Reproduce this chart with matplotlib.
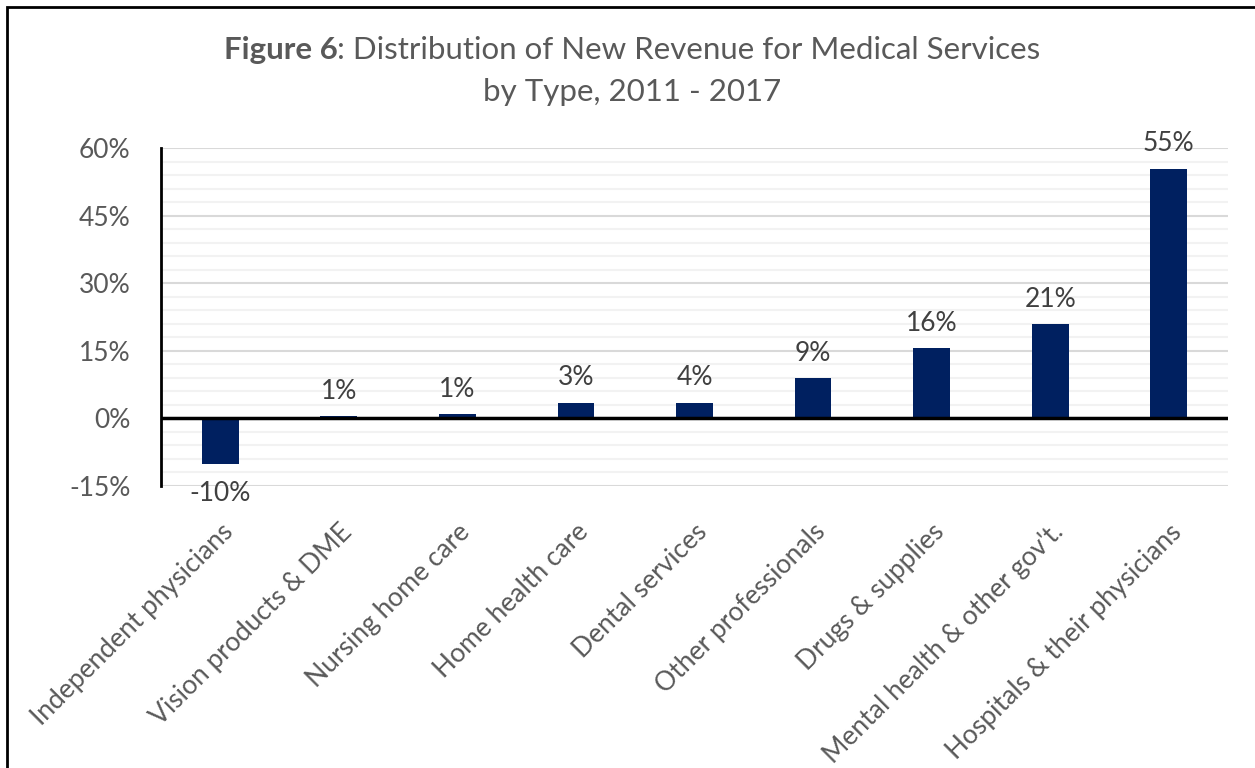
import matplotlib.pyplot as plt
from matplotlib.patches import Rectangle
from matplotlib.ticker import MultipleLocator, FuncFormatter

plt.rcParams['font.family'] = ['Lato', 'DejaVu Sans']

categorias = ["Independent physicians", "Vision products & DME", "Nursing home care",
              "Home health care", "Dental services", "Other professionals",
              "Drugs & supplies", "Mental health & other gov't.", "Hospitals & their physicians"]
valores = [-10.2, 0.5, 0.9, 3.5, 3.5, 8.9, 15.6, 20.9, 55.4]
etiquetas = ["-10%", "1%", "1%", "3%", "4%", "9%", "16%", "21%", "55%"]

azul = '#002060'
gris_texto = '#595959'

fig = plt.figure(figsize=(12.55, 7.68), dpi=100)
ax = fig.add_axes([0.1283, 0.3672, 0.8502, 0.4401])

x = list(range(len(categorias)))
ax.bar(x, valores, width=0.31, color=azul, zorder=3)

ax.set_xlim(-0.5, len(categorias) - 0.5)
ax.set_ylim(-15, 60)
ax.yaxis.set_major_locator(MultipleLocator(15))
ax.yaxis.set_minor_locator(MultipleLocator(3))
ax.yaxis.set_major_formatter(FuncFormatter(lambda v, p: f"{v:.0f}%"))
ax.grid(axis='y', which='major', color='#d9d9d9', linewidth=1.5, zorder=0)
ax.grid(axis='y', which='minor', color='#f2f2f2', linewidth=1.5, zorder=0)
ax.axhline(0, color='black', linewidth=2.5, zorder=4)

for lado in ['top', 'right', 'bottom']:
    ax.spines[lado].set_visible(False)
ax.spines['left'].set_linewidth(2)
ax.spines['left'].set_color('black')

ax.tick_params(axis='both', which='both', length=0)
ax.tick_params(axis='y', labelsize=19, labelcolor=gris_texto, pad=22)
ax.set_xticks(x)
ax.set_xticklabels(categorias, rotation=45, ha='right', rotation_mode='anchor',
                   fontsize=19, color=gris_texto)
ax.tick_params(axis='x', pad=24)

for xi, v, t in zip(x, valores, etiquetas):
    if v < 0:
        ax.annotate(t, (xi, v), xytext=(0, -12), textcoords='offset points',
                    ha='center', va='top', fontsize=19, color='#404040')
    else:
        ax.annotate(t, (xi, v), xytext=(0, 9), textcoords='offset points',
                    ha='center', va='bottom', fontsize=19, color='#404040')

# titulo: "Figure 6" en negrita + resto normal, centrado
centro = 632 / 1255
t_bold = fig.text(0, 0.935, "Figure 6", ha='left', va='center', fontsize=22.5,
                  fontweight='bold', color=gris_texto)
t_rest = fig.text(0, 0.935, ": Distribution of New Revenue for Medical Services",
                  ha='left', va='center', fontsize=22.5, color=gris_texto)
fig.canvas.draw()
w1 = t_bold.get_window_extent().width / fig.bbox.width
w2 = t_rest.get_window_extent().width / fig.bbox.width
inicio = centro - (w1 + w2) / 2
t_bold.set_x(inicio)
t_rest.set_x(inicio + w1)
fig.text(centro, 0.880, "by Type, 2011 - 2017", ha='center', va='center', fontsize=22.5, color=gris_texto)

fig.patches.append(Rectangle((7 / 1255, -0.1), 1.2, 1 - 7 / 768 + 0.1, transform=fig.transFigure,
                             fill=False, edgecolor='black', linewidth=2))

fig.savefig('out.png', dpi=100)
